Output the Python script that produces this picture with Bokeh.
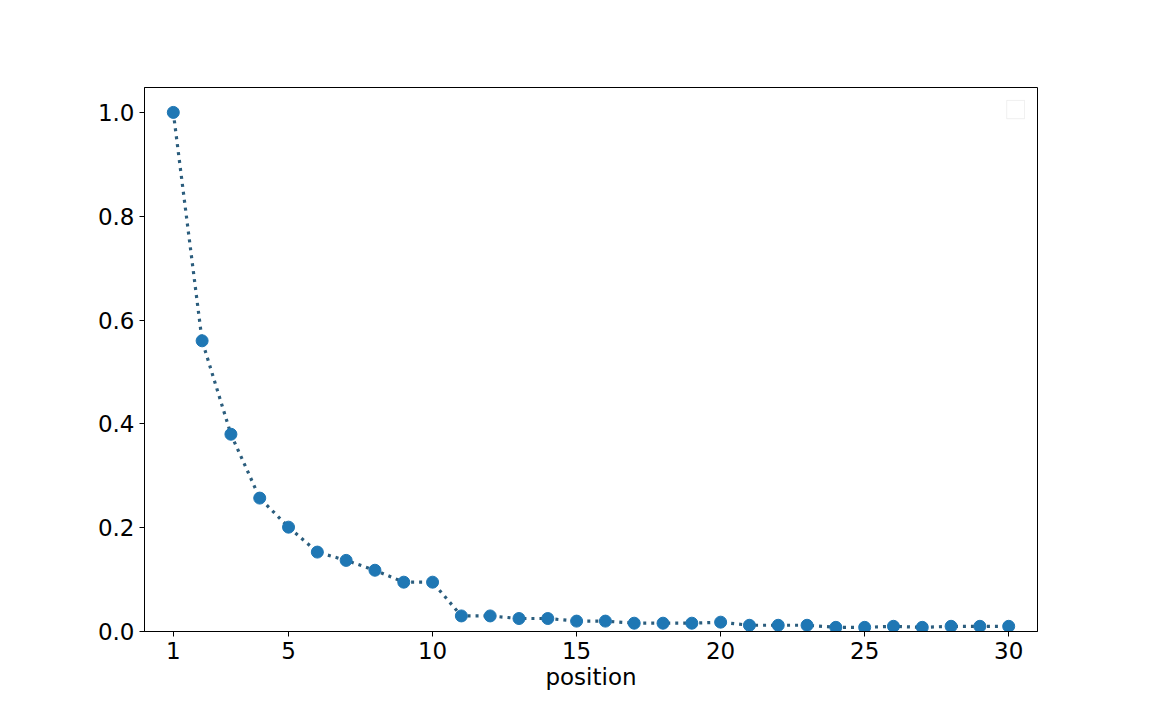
from bokeh.plotting import figure
from bokeh.models import FixedTicker, NumeralTickFormatter, Range1d, BoxAnnotation
from bokeh.embed import file_html
from bokeh.resources import INLINE

positions = list(range(1, 31))
values = [1.0, 0.56, 0.38, 0.257, 0.201, 0.153, 0.137, 0.118, 0.095, 0.095,
          0.030, 0.030, 0.025, 0.025, 0.020, 0.020, 0.016, 0.016, 0.016, 0.018,
          0.012, 0.012, 0.012, 0.008, 0.008, 0.010, 0.008, 0.010, 0.010, 0.010]
x_ticks = [1, 5, 10, 15, 20, 25, 30]
y_ticks = [0.0, 0.2, 0.4, 0.6, 0.8, 1.0]

p = figure(frame_width=893, frame_height=544, output_backend="svg", toolbar_location=None,
           x_range=Range1d(0, 31), y_range=Range1d(0, 1.048),
           min_border_left=144, min_border_right=107, min_border_top=87, min_border_bottom=81)
p.background_fill_color = "white"
p.border_fill_color = "white"
p.outline_line_color = "black"
p.outline_line_width = 1
p.xgrid.visible = False
p.ygrid.visible = False

p.line(positions, values, line_color="#2b5d7d", line_width=3.2, line_dash="3 5")
p.scatter(positions, values, size=12, fill_color="#1f77b4", line_color="#1f77b4")

for ax in (p.xaxis[0], p.yaxis[0]):
    ax.major_label_text_font = "DejaVu Sans"
    ax.major_label_text_font_size = "23px"
    ax.major_label_text_color = "black"
    ax.minor_tick_line_color = None
    ax.major_tick_out = 5
    ax.major_tick_in = 0
    ax.major_label_standoff = 5
    ax.axis_line_color = "black"
    ax.major_tick_line_color = "black"

p.xaxis[0].ticker = FixedTicker(ticks=x_ticks)
p.yaxis[0].ticker = FixedTicker(ticks=y_ticks)
p.yaxis[0].formatter = NumeralTickFormatter(format="0.0")
p.xaxis[0].axis_label = "position"
p.xaxis[0].axis_label_text_font = "DejaVu Sans"
p.xaxis[0].axis_label_text_font_size = "23px"
p.xaxis[0].axis_label_text_font_style = "normal"
p.xaxis[0].axis_label_text_color = "black"
p.xaxis[0].axis_label_standoff = 2

# empty legend box (top right)
box = BoxAnnotation(left=29.93, right=30.55, top=1.023, bottom=0.988,
                    fill_color="white", fill_alpha=0.8,
                    line_color="#cccccc", line_width=1)
p.add_layout(box)

open("out.html", "w").write(file_html(p, INLINE))
